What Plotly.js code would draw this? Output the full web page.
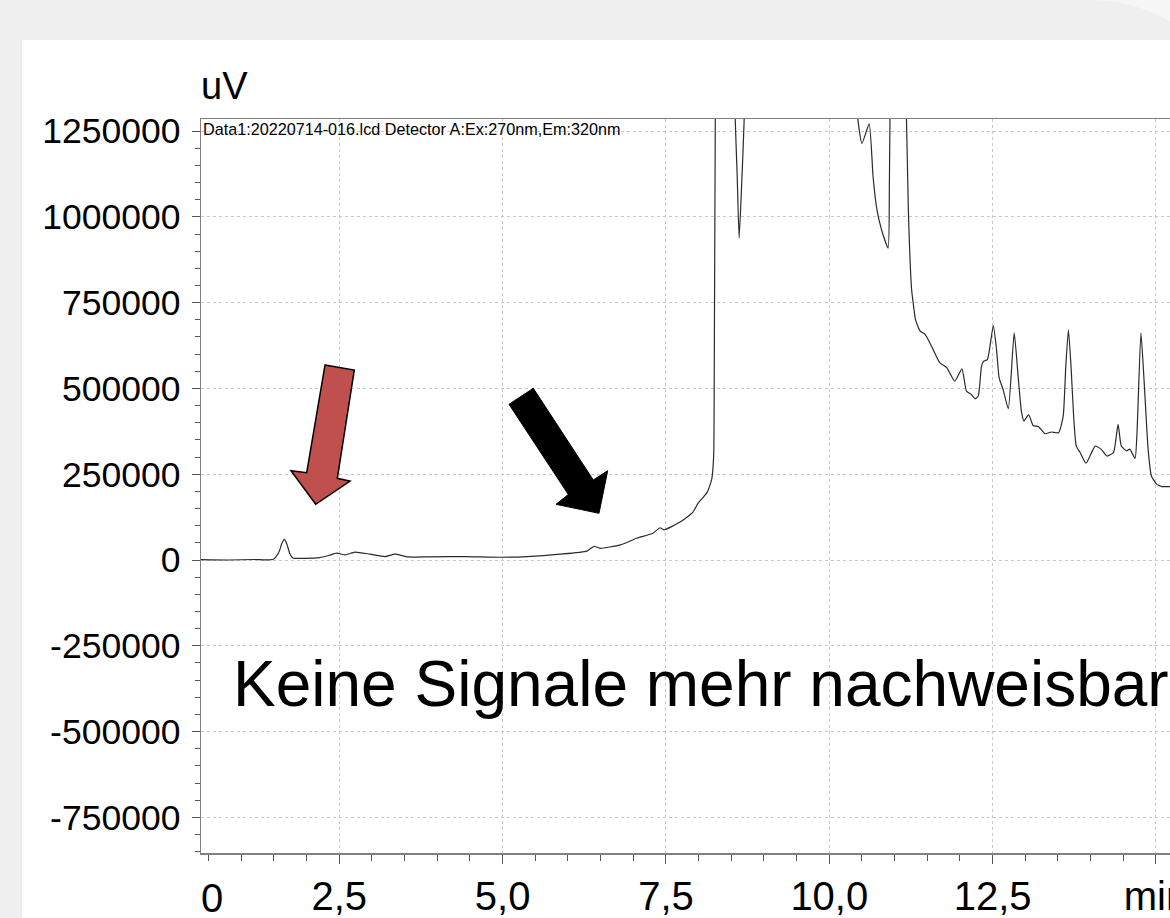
<!DOCTYPE html>
<html>
<head>
<meta charset="utf-8">
<script src="https://cdn.plot.ly/plotly-3.0.1.min.js"></script>
<style>
  html, body { margin:0; padding:0; }
  body { width:1170px; height:918px; overflow:hidden; position:relative; background:#f6f6f6; }
  #back { position:absolute; left:0; top:0; width:1250px; height:918px; background:#efefef; border-top-right-radius:160px; }
  #card { position:absolute; left:22px; top:40px; width:1200px; height:900px; background:#ffffff; }
  #chart { position:absolute; left:0; top:0; width:1170px; height:918px; }
</style>
</head>
<body>
<div id="back"></div>
<div id="card"></div>
<div id="chart"></div>
<script>
// Retention time (min)
const time = [
  0.38, 0.80, 1.20, 1.49, 1.58, 1.62, 1.66, 1.70, 1.74, 1.79,
  1.97, 2.20, 2.35, 2.46, 2.59, 2.74, 2.97, 3.20, 3.35, 3.55,
  3.89, 4.42, 4.96, 5.37, 5.88, 6.29, 6.40, 6.49, 6.80, 7.06,
  7.30, 7.41, 7.47, 7.71, 7.91, 7.99, 8.13, 8.20, 8.23, 8.24,
  8.26, 8.30, 8.45, 8.53, 8.56, 8.59, 8.62, 8.66, 8.70, 8.75,
  9.20, 9.80, 10.30, 10.40, 10.50, 10.61, 10.67, 10.73, 10.80, 10.90,
  10.92, 10.95, 11.05, 11.15, 11.21, 11.26, 11.29, 11.32, 11.39, 11.47,
  11.59, 11.69, 11.80, 11.92, 12.03, 12.10, 12.17, 12.23, 12.28, 12.33,
  12.36, 12.42, 12.51, 12.56, 12.60, 12.66, 12.74, 12.83, 12.89, 12.94,
  12.98, 13.05, 13.12, 13.20, 13.30, 13.40, 13.51, 13.58, 13.62, 13.66,
  13.70, 13.74, 13.78, 13.84, 13.93, 14.07, 14.17, 14.25, 14.35, 14.42,
  14.47, 14.55, 14.60, 14.68, 14.71, 14.77, 14.82, 14.88, 14.93, 15.01,
  15.09, 15.22
];
// Detector signal (uV)
const signal = [
  1000, 0, 1500, 2000, 25000, 48000, 60000, 45000, 20000, 6000,
  5000, 7000, 14000, 20000, 15000, 23000, 17000, 10000, 17000, 9000,
  9000, 10000, 8000, 10000, 17000, 26000, 40000, 34000, 44000, 64000,
  78000, 94000, 88000, 110000, 139000, 165000, 197000, 235000, 303000, 590000,
  1500000, 2600000, 3000000, 1600000, 1285000, 1120000, 938000, 1100000, 1300000, 1900000,
  2800000, 2900000, 2100000, 1350000, 1214000, 1271000, 1117000, 1020000, 962000, 909000,
  1100000, 1700000, 2500000, 1600000, 1020000, 788000, 740000, 700000, 667000, 657000,
  613000, 575000, 560000, 521000, 557000, 492000, 483000, 470000, 478000, 565000,
  579000, 584000, 683000, 613000, 531000, 497000, 441000, 662000, 536000, 434000,
  405000, 424000, 392000, 389000, 368000, 373000, 371000, 419000, 565000, 671000,
  565000, 419000, 332000, 313000, 282000, 332000, 321000, 303000, 313000, 395000,
  332000, 318000, 323000, 296000, 371000, 662000, 517000, 323000, 245000, 221000,
  214000, 214000
];

const xTickVals = [2.5, 5, 7.5, 10, 12.5, 15];
const xTickText = ["2,5", "5,0", "7,5", "10,0", "12,5", "min"];
const xZeroLabel = "0";
const yTickVals = [-750000, -500000, -250000, 0, 250000, 500000, 750000, 1000000, 1250000];
const yTickText = ["-750000", "-500000", "-250000", "0", "250000", "500000", "750000", "1000000", "1250000"];
const yUnit = "uV";
const fileLabel = "Data1:20220714-016.lcd Detector A:Ex:270nm,Em:320nm";
const noteText = "Keine Signale mehr nachweisbar";

// plot-area geometry (pixels in the 1170x918 page)
const L = 201, R = 1170, T = 119, B = 853;
const px = v => (v - L) / (R - L);
const py = v => (B - v) / (B - T);

function poly(pts) {
  return 'M ' + pts.map(p => px(p[0]).toFixed(5) + ' ' + py(p[1]).toFixed(5)).join(' L ') + ' Z';
}
const redArrow = [[325,365],[354.3,370],[337.3,478.3],[350,481],[315.7,504.3],[291,470.7],[306.7,472.7]];
const blackArrow = [[509,404.3],[533.3,388.3],[593.3,480],[607.7,470.7],[599,513.3],[556,504.3],[568.3,494.5]];

const sans = "'Liberation Sans', Arial, sans-serif";

const trace = {
  x: time, y: signal, type: 'scatter', mode: 'lines',
  line: { color: '#2b2b2b', width: 1.2, shape: 'spline', smoothing: 0.5 },
  hoverinfo: 'skip'
};

const layout = {
  width: 1170, height: 918,
  margin: { l: L, r: 1170 - R, t: T, b: 918 - B, pad: 0 },
  paper_bgcolor: 'rgba(0,0,0,0)',
  plot_bgcolor: '#ffffff',
  showlegend: false,
  xaxis: {
    range: [0.383, 15.215],
    tickmode: 'array', tickvals: xTickVals, ticktext: xTickText,
    ticks: 'outside', ticklen: 9, tickwidth: 1, tickcolor: '#555',
    ticklabelstandoff: -2,
    ticklabeloverflow: 'allow',
    tickfont: { family: sans, size: 40, color: '#000' },
    showline: true, linecolor: '#808080', linewidth: 1.5, mirror: true,
    showgrid: true, gridcolor: '#c8c8c8', gridwidth: 1, griddash: 'dot',
    zeroline: false,
    minor: { dtick: 0.5, tick0: 0, ticks: 'outside', ticklen: 6, tickcolor: '#555', tickwidth: 1, showgrid: false }
  },
  yaxis: {
    range: [-853800, 1285100],
    tickmode: 'array', tickvals: yTickVals, ticktext: yTickText,
    ticks: 'outside', ticklen: 8, tickwidth: 1, tickcolor: '#555',
    ticklabelstandoff: 4,
    tickfont: { family: sans, size: 35.5, color: '#000' },
    showline: true, linecolor: '#808080', linewidth: 1.5, mirror: false,
    showgrid: true, gridcolor: '#c8c8c8', gridwidth: 1, griddash: 'dot',
    zeroline: false,
    minor: { dtick: 50000, tick0: 0, ticks: 'outside', ticklen: 5, tickcolor: '#555', tickwidth: 1, showgrid: false }
  },
  annotations: [
    { text: yUnit, xref: 'paper', yref: 'paper', x: px(199), y: py(86), xanchor: 'left', yanchor: 'middle',
      showarrow: false, font: { family: sans, size: 38, color: '#000' } },
    { text: fileLabel, xref: 'paper', yref: 'paper', x: px(201), y: py(118), xanchor: 'left', yanchor: 'top',
      showarrow: false, font: { family: sans, size: 16.2, color: '#000' } },
    { text: noteText, xref: 'paper', yref: 'paper', x: px(231), y: py(684), xanchor: 'left', yanchor: 'middle',
      showarrow: false, font: { family: sans, size: 64, color: '#000' } },
    { text: xZeroLabel, xref: 'paper', yref: 'paper', x: px(212), y: py(898), xanchor: 'center', yanchor: 'middle',
      showarrow: false, font: { family: sans, size: 40, color: '#000' } }
  ],
  shapes: [
    { type: 'path', xref: 'paper', yref: 'paper', path: poly(redArrow),
      fillcolor: '#c0504d', line: { color: '#000', width: 1.5 } },
    { type: 'path', xref: 'paper', yref: 'paper', path: poly(blackArrow),
      fillcolor: '#000', line: { color: '#000', width: 1 } }
  ]
};

Plotly.newPlot('chart', [trace], layout, { displayModeBar: false, staticPlot: true });
</script>
</body>
</html>
